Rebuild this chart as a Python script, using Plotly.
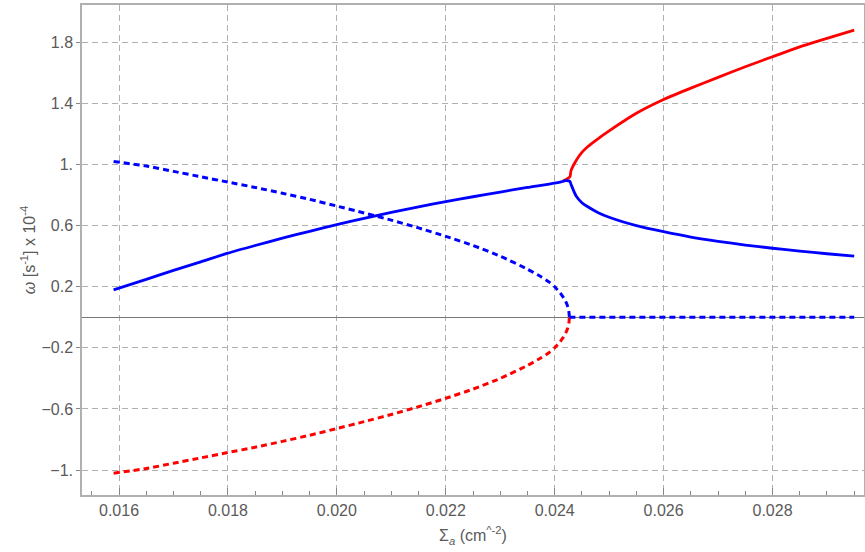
import plotly.graph_objects as go

# ---- data ----
x_left = [0.0159, 0.0165, 0.017, 0.0175, 0.018, 0.0185, 0.019, 0.0195, 0.020,
          0.0205, 0.021, 0.0215, 0.022, 0.0225, 0.023, 0.0235, 0.024, 0.02415]
blue_solid_left = [0.18, 0.248, 0.307, 0.363, 0.42, 0.47, 0.518, 0.563, 0.607,
                   0.648, 0.687, 0.723, 0.757, 0.789, 0.82, 0.85, 0.878, 0.89]

x_dash = [0.0159, 0.0165, 0.017, 0.0175, 0.018, 0.0185, 0.019, 0.0195, 0.020,
          0.0205, 0.021, 0.0215, 0.022, 0.0225, 0.023, 0.0235, 0.02375, 0.0239,
          0.024, 0.02405, 0.0241, 0.02415, 0.0242, 0.02424, 0.02426, 0.02427]
blue_dash = [1.02, 0.99, 0.955, 0.92, 0.885, 0.85, 0.812, 0.772, 0.728,
             0.683, 0.636, 0.585, 0.53, 0.47, 0.40, 0.315, 0.265, 0.23,
             0.20, 0.18, 0.16, 0.135, 0.105, 0.07, 0.04, 0.0]
red_dash = [-1.02, -0.99, -0.955, -0.92, -0.885, -0.85, -0.812, -0.772, -0.728,
            -0.683, -0.636, -0.585, -0.53, -0.47, -0.40, -0.315, -0.265, -0.23,
            -0.20, -0.18, -0.16, -0.135, -0.105, -0.07, -0.04, 0.0]

x_zero = [0.02427, 0.0295]
blue_zero = [0.0, 0.0]

x_right = [0.02415, 0.0242, 0.02428, 0.0243, 0.0244, 0.0245, 0.0246, 0.0248,
           0.025, 0.0255, 0.026, 0.0265, 0.027, 0.0275, 0.028, 0.0285, 0.029, 0.0295]
red_right = [0.89, 0.90, 0.92, 0.96, 1.03, 1.08, 1.115, 1.17,
             1.22, 1.335, 1.425, 1.50, 1.57, 1.64, 1.705, 1.77, 1.825, 1.88]
blue_right = [0.89, 0.895, 0.89, 0.87, 0.79, 0.75, 0.725, 0.685,
              0.655, 0.60, 0.56, 0.525, 0.497, 0.473, 0.452, 0.433, 0.416, 0.40]

x_ticks = [0.016, 0.018, 0.020, 0.022, 0.024, 0.026, 0.028]
x_ticktext = ["0.016", "0.018", "0.020", "0.022", "0.024", "0.026", "0.028"]
y_ticks = [1.8, 1.4, 1.0, 0.6, 0.2, -0.2, -0.6, -1.0]
y_ticktext = ["1.8", "1.4", "1.", "0.6", "0.2", "\u22120.2", "\u22120.6", "\u22121."]

BLUE = "#0000ff"
RED = "#ff0000"
DASH = "6px,4px"

fig = go.Figure()
fig.add_trace(go.Scatter(x=x_dash, y=red_dash, mode="lines",
                         line=dict(color=RED, width=3, dash=DASH, shape="spline", smoothing=0.6)))
fig.add_trace(go.Scatter(x=x_dash, y=blue_dash, mode="lines",
                         line=dict(color=BLUE, width=3, dash=DASH, shape="spline", smoothing=0.6)))
fig.add_trace(go.Scatter(x=x_zero, y=blue_zero, mode="lines",
                         line=dict(color=BLUE, width=3, dash=DASH)))
fig.add_trace(go.Scatter(x=x_right, y=red_right, mode="lines",
                         line=dict(color=RED, width=2.8, shape="spline", smoothing=0.6)))
fig.add_trace(go.Scatter(x=x_left, y=blue_solid_left, mode="lines",
                         line=dict(color=BLUE, width=2.8, shape="spline", smoothing=0.6)))
fig.add_trace(go.Scatter(x=x_right, y=blue_right, mode="lines",
                         line=dict(color=BLUE, width=2.8, shape="spline", smoothing=0.6)))

font_color = "#5a5a5a"
fig.update_layout(
    width=865, height=552,
    margin=dict(l=82, r=1, t=5, b=57),
    paper_bgcolor="white", plot_bgcolor="white",
    showlegend=False,
    font=dict(family="Liberation Sans, Arial, sans-serif", size=16, color=font_color),
    xaxis=dict(
        range=[0.01532, 0.02968],
        automargin=False,
        tickvals=x_ticks, ticktext=x_ticktext,
        showgrid=True, gridcolor="#b0b0b0", griddash="6px,4px", gridwidth=1,
        showline=True, linecolor="#b0b0b0", linewidth=1.5, mirror=True,
        ticks="inside", ticklen=7, tickcolor="#888888",
        minor=dict(dtick=0.0005, tick0=0.016, ticks="inside", ticklen=4,
                   tickcolor="#888888", showgrid=False),
        zeroline=False,
        title=dict(text="\u03a3<sub><i>a</i></sub> (cm<sup>^-2</sup>)", standoff=12,
                   font=dict(size=16, color=font_color)),
    ),
    yaxis=dict(
        range=[-1.163, 2.044],
        automargin=False,
        tickvals=y_ticks, ticktext=y_ticktext,
        showgrid=True, gridcolor="#b0b0b0", griddash="6px,4px", gridwidth=1,
        showline=True, linecolor="#b0b0b0", linewidth=1.5, mirror=True,
        ticks="outside", ticklen=4, tickcolor="#888888",
        zeroline=True, zerolinecolor="#777777", zerolinewidth=1,
        title=dict(text="<i>\u03c9</i> [s<sup>-1</sup>] x 10<sup>-4</sup>", standoff=2,
                   font=dict(size=16, color=font_color)),
    ),
)

fig.write_html("out.html", config={"displayModeBar": False},
               post_script="document.body.style.margin='0px';")
